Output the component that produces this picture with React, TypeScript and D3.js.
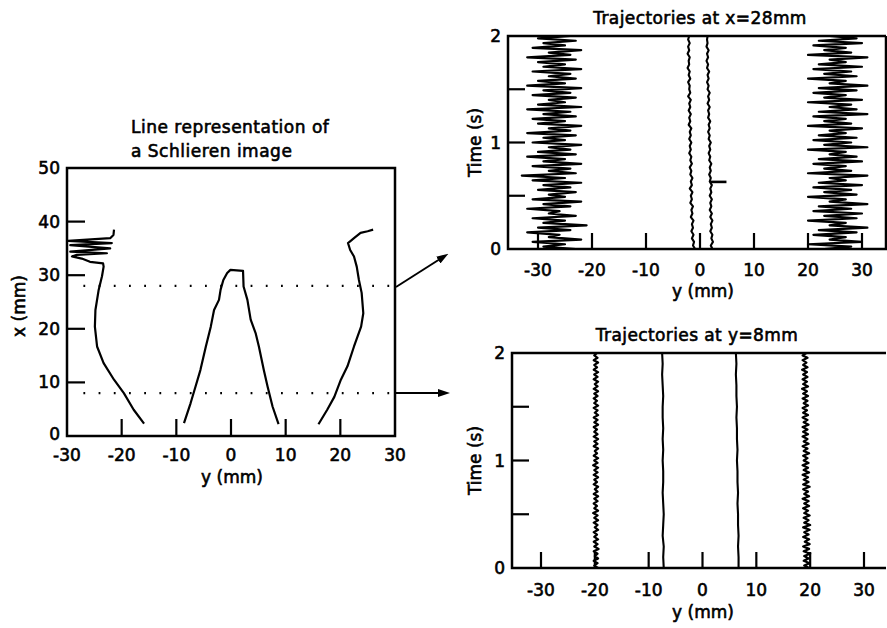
import React from "react";
import * as d3 from "d3";

// ---- left plot: line representation of a Schlieren image, points are [y(mm), x(mm)]
const schlierenLeft: [number, number][] = [
  [-15.9, 2.3], [-17.8, 4.9], [-19.6, 8], [-21.4, 10.5], [-23.3, 13.6], [-24.5, 16.7],
  [-24.9, 20.4], [-24.8, 23.5], [-24.2, 27.3], [-23.6, 29.8], [-23.3, 31.6], [-23.4, 32.2],
  [-25.8, 32.5], [-27.3, 33.1], [-29.1, 33.5], [-28.2, 33.8], [-22.7, 34.1], [-29.4, 34.4],
  [-22.1, 35], [-29.4, 35.6], [-21.8, 36], [-29.8, 36.4], [-22.1, 36.9], [-21.5, 37.5], [-21.4, 38.5],
];
const schlierenCentre: [number, number][] = [
  [-8.6, 2.4], [-7.4, 6.1], [-6.5, 9.2], [-5.6, 12.3], [-4.6, 16.7], [-3.7, 20.4], [-3.1, 23.5],
  [-2.2, 25.4], [-1.9, 27.3], [-1.4, 29.1], [-0.7, 30.4], [-0.1, 31], [2.2, 30.8], [2.3, 27.9],
  [3.0, 25.4], [3.6, 21.7], [4.5, 19.2], [5.1, 16.7], [6.0, 12.3], [6.7, 9.2], [7.6, 5.5], [8.7, 2.2],
];
const schlierenRight: [number, number][] = [
  [16.0, 2.2], [17.6, 4.9], [18.9, 7.3], [20.1, 10.5], [21.3, 13], [22.5, 16.7], [23.8, 20.4],
  [24.2, 22.9], [23.9, 26.7], [23.4, 29.1], [23.0, 31.6], [22.5, 33.5], [21.8, 34.7], [21.4, 36],
  [22.5, 36.9], [23.7, 37.9], [25.0, 38.2], [26.0, 38.5],
];
const cutLevels = [28, 8];
const leftXTicks = [-30, -20, -10, 0, 10, 20, 30];
const leftYTicks = [0, 10, 20, 30, 40, 50];

// ---- trajectories at x = 28 mm (values in mm, evenly spaced over 0..2 s)
const traj28Left = [
  -23, -29, -25, -31, -22, -28, -26, -32, -24, -30,
  -21, -29, -25, -31, -23, -28, -26, -32, -24, -29,
  -22, -31, -25, -28, -23, -30, -24, -29, -22, -31,
  -25, -33, -23, -28, -24, -31, -22, -29, -25, -32,
  -23, -30, -24, -28, -22, -31, -25, -29, -23, -32,
  -24, -28, -22, -30, -25, -31, -23, -29, -24, -32,
  -22, -30, -25, -28, -23, -31, -24, -29, -22, -32,
  -25, -30, -23, -28, -24, -31, -22, -29, -25, -30,
  -23, -32, -24, -28, -22, -31, -25, -29, -23, -30, -24,
];
const traj28Right = [
  23, 28, 20, 30, 24, 27, 21, 29, 22, 31,
  24, 27, 20, 29, 23, 30, 21, 28, 22, 31,
  24, 27, 20, 29, 23, 28, 21, 30, 22, 27,
  24, 31, 20, 28, 23, 27, 21, 30, 22, 29,
  24, 27, 20, 31, 23, 28, 21, 29, 22, 27,
  24, 30, 20, 28, 23, 27, 21, 31, 22, 29,
  24, 28, 20, 30, 23, 27, 21, 29, 22, 31,
  24, 27, 20, 29, 23, 28, 21, 30, 22, 27,
  24, 31, 20, 28, 23, 27, 21, 30, 22, 29, 24,
];
const traj28CentreA = [
  -0.9, -1.3, -1.1, -1.5, -1.2, -1.6, -1.3, -1.5, -1.2, -1.7,
  -1.4, -1.6, -1.3, -1.8, -1.5, -1.7, -1.4, -1.9, -1.5, -1.7,
  -1.4, -1.8, -1.6, -1.9, -1.5, -1.8, -1.6, -2.0, -1.7, -1.9,
  -1.6, -2.0, -1.7, -1.9, -1.6, -2.1, -1.8, -2.0, -1.7, -2.1,
  -1.8, -2.0, -1.7, -2.2, -1.8, -2.0, -1.9, -2.2, -1.8, -2.1,
  -1.9, -2.3, -2.0, -2.1, -1.9, -2.3, -2.0, -2.2, -1.9, -2.2, -2.0,
];
const traj28CentreB = [
  2.3, 2.0, 2.4, 2.1, 2.3, 1.9, 2.2, 2.0, 2.3, 1.9,
  2.2, 1.8, 2.1, 1.9, 2.2, 1.8, 2.1, 1.9, 2.2, 1.8,
  2.0, 1.7, 2.0, 1.8, 2.1, 1.7, 1.9, 1.6, 1.9, 1.7,
  2.0, 1.6, 1.8, 1.5, 1.8, 1.6, 1.9, 1.5, 1.7, 1.5,
  1.8, 1.4, 1.7, 1.5, 1.8, 1.4, 1.6, 1.3, 1.6, 1.4,
  1.7, 1.3, 1.5, 1.2, 1.5, 1.3, 1.6, 1.2, 1.4, 1.3, 1.4,
];
const traj28Spike: [number, number][] = [[1.9, 0.63], [4.9, 0.63]];

// ---- trajectories at y = 8 mm
const traj8A = [
  -19.4, -20.1, -19.5, -20.2, -19.4, -20.0, -19.5, -20.2, -19.3, -20.1,
  -19.5, -20.2, -19.4, -20.1, -19.6, -20.2, -19.4, -20.0, -19.5, -20.2,
  -19.4, -20.1, -19.5, -20.3, -19.4, -20.1, -19.6, -20.2, -19.5, -20.1,
  -19.4, -20.2, -19.5, -20.0, -19.4, -20.2, -19.6, -20.1, -19.4, -20.2,
  -19.5, -20.1, -19.4, -20.3, -19.5, -20.1, -19.4, -20.2, -19.6, -20.0,
  -19.4, -20.2, -19.5, -20.1, -19.4, -20.2, -19.5, -20.1, -19.6, -20.2,
  -19.4, -20.1, -19.5, -20.2, -19.4, -20.0, -19.5, -20.2, -19.4, -20.1,
  -19.6, -20.2, -19.5, -20.1, -19.4, -20.2, -19.5, -20.0, -19.4, -20.2,
  -19.5, -20.1, -19.4, -20.2, -19.6, -20.1, -19.4, -20.2, -19.5, -20.1, -19.6,
];
const traj8B = [
  -7.2, -7.3, -7.2, -7.4, -7.3, -7.2, -7.3, -7.4, -7.3, -7.3, -7.4, -7.3, -7.4, -7.3, -7.4, -7.4,
  -7.3, -7.4, -7.5, -7.4, -7.5,
];
const traj8C = [
  6.7, 6.7, 6.6, 6.7, 6.6, 6.6, 6.5, 6.6, 6.5, 6.5, 6.4, 6.5, 6.4, 6.4, 6.3, 6.4, 6.3, 6.3, 6.2,
  6.3, 6.2,
];
const traj8D = [
  19.8, 18.9, 19.9, 18.8, 19.7, 18.9, 20.0, 18.8, 19.8, 18.7,
  19.9, 19.0, 19.8, 18.7, 19.7, 18.9, 19.9, 18.7, 20.0, 18.9,
  19.7, 18.8, 19.9, 18.9, 19.6, 18.7, 19.8, 18.9, 19.7, 18.6,
  19.8, 18.9, 19.6, 18.7, 19.9, 18.7, 19.7, 18.8, 19.6, 18.6,
  19.8, 18.8, 19.6, 18.6, 19.7, 18.8, 19.5, 18.7, 19.8, 18.8,
  19.5, 18.6, 19.7, 18.8, 19.5, 18.6, 19.6, 18.7, 19.5, 18.6,
  19.7, 18.8, 19.5, 18.6, 19.6, 18.7, 19.4, 18.6, 19.6, 18.8,
  19.5, 18.6, 19.6, 18.7, 19.4, 18.5, 19.6, 18.7, 19.4, 18.6,
  19.5, 18.7, 19.4, 18.5, 19.5, 18.7, 19.3, 18.6, 19.5, 18.6, 19.3,
];
const trajXTicks = [-30, -20, -10, 0, 10, 20, 30];
const timeLabels = [0, 1, 2];
const timeMinorTicks = [0.5, 1, 1.5];

const FONT = "'DejaVu Sans', sans-serif";
const INK = "#000";

// turn an evenly sampled series into [y, t] pairs over 0..2 s
function toTimePairs(vals: number[]): [number, number][] {
  const step = d3.scaleLinear().domain([0, vals.length - 1]).range([0, 2]);
  return vals.map((v, i) => [v, step(i)]);
}

function Txt(props: any) {
  return (
    <text
      fontFamily={FONT}
      fontSize={17}
      fill={INK}
      stroke={INK}
      strokeWidth={0.6}
      {...props}
    />
  );
}

function LeftPlot() {
  const y = d3.scaleLinear().domain([-30, 30]).range([67, 395]);
  const x = d3.scaleLinear().domain([0, 50]).range([436, 168]);
  const line = d3.line<[number, number]>().x((d) => y(d[0])).y((d) => x(d[1]));
  return (
    <g>
      <Txt x={131} y={133} fontSize={17} letterSpacing={0.5}>Line representation of</Txt>
      <Txt x={131} y={157} fontSize={17} letterSpacing={0.5}>a Schlieren image</Txt>
      {[schlierenLeft, schlierenCentre, schlierenRight].map((d, i) => (
        <path key={i} d={line(d) || ""} fill="none" stroke={INK} strokeWidth={2.2} strokeLinejoin="round" />
      ))}
      {cutLevels.map((lv) => (
        <line key={lv} x1={y(-27)} x2={y(29.8)} y1={x(lv)} y2={x(lv)}
          stroke={INK} strokeWidth={2.4} strokeDasharray="1.8 13.4" />
      ))}
      <rect x={y(-30)} y={x(50)} width={y(30) - y(-30)} height={x(0) - x(50)}
        fill="none" stroke={INK} strokeWidth={2.5} />
      {leftXTicks.slice(1, -1).map((t) => (
        <line key={t} x1={y(t)} x2={y(t)} y1={x(0)} y2={x(0) - 17} stroke={INK} strokeWidth={2.2} />
      ))}
      {leftYTicks.slice(1, -1).map((t) => (
        <line key={t} x1={y(-30)} x2={y(-30) + 18} y1={x(t)} y2={x(t)} stroke={INK} strokeWidth={2.2} />
      ))}
      {leftXTicks.map((t) => (
        <Txt key={t} x={y(t)} y={461} textAnchor="middle">{t < 0 ? "-" + Math.abs(t) : t}</Txt>
      ))}
      {leftYTicks.map((t) => (
        <Txt key={t} x={60} y={x(t) + (t === 0 ? 4 : 6)} textAnchor="end">{t}</Txt>
      ))}
      <Txt x={232} y={483} textAnchor="middle">y (mm)</Txt>
      <Txt transform="translate(25,306) rotate(-90)" textAnchor="middle">x (mm)</Txt>
      {/* arrows pointing to the two trajectory panels */}
      <line x1={396} y1={287} x2={440} y2={259} stroke={INK} strokeWidth={2} markerEnd="url(#arrow)" />
      <line x1={396} y1={393} x2={440} y2={393} stroke={INK} strokeWidth={2} markerEnd="url(#arrow)" />
    </g>
  );
}

function TrajPanel(props: {
  title: string; top: number; bottom: number; left: number;
  xAt30: [number, number]; wiggly: number[][]; thin: number[][]; extra?: [number, number][];
  titleX: number; titleY: number; tickY: number; labelY: number; showRight: boolean;
}) {
  const { top, bottom, left, xAt30 } = props;
  const y = d3.scaleLinear().domain([-30, 30]).range(xAt30);
  const t = d3.scaleLinear().domain([0, 2]).range([bottom, top]);
  const line = d3.line<[number, number]>().x((d) => y(d[0])).y((d) => t(d[1]));
  const right = 886;
  return (
    <g>
      <Txt x={props.titleX} y={props.titleY} fontSize={17} textAnchor="middle" letterSpacing={0.4}>{props.title}</Txt>
      {props.wiggly.map((d, i) => (
        <path key={"w" + i} d={line(toTimePairs(d)) || ""} fill="none" stroke={INK} strokeWidth={2.2} strokeLinejoin="round" />
      ))}
      {props.thin.map((d, i) => (
        <path key={"t" + i} d={line(toTimePairs(d)) || ""} fill="none" stroke={INK} strokeWidth={2.1} strokeLinejoin="round" />
      ))}
      {props.extra && (
        <path d={line(props.extra) || ""} fill="none" stroke={INK} strokeWidth={2.6} />
      )}
      <path d={`M${right},${top}H${left}V${bottom}H${right}${props.showRight ? "V" + top : ""}`}
        fill="none" stroke={INK} strokeWidth={2.5} />
      {trajXTicks.map((v) => (
        <line key={v} x1={y(v)} x2={y(v)} y1={bottom} y2={bottom - 16} stroke={INK} strokeWidth={2.2} />
      ))}
      {timeMinorTicks.map((v) => (
        <line key={v} x1={left} x2={left + 17} y1={t(v)} y2={t(v)} stroke={INK} strokeWidth={2.2} />
      ))}
      {trajXTicks.map((v) => (
        <Txt key={v} x={y(v)} y={props.tickY} textAnchor="middle">{v < 0 ? "-" + Math.abs(v) : v}</Txt>
      ))}
      {timeLabels.map((v) => (
        <Txt key={v} x={left - 7} y={t(v) + 6} textAnchor="end">{v}</Txt>
      ))}
      <Txt x={703} y={props.labelY} textAnchor="middle">y (mm)</Txt>
      <Txt transform={`translate(481,${(top + bottom) / 2}) rotate(-90)`} textAnchor="middle">Time (s)</Txt>
    </g>
  );
}

export default function App() {
  return (
    <svg width={887} height={628} style={{ position: "absolute", left: 0, top: 0, background: "#fff" }}>
      <defs>
        <marker id="arrow" viewBox="0 0 12 8" refX={2} refY={4} markerWidth={12} markerHeight={8}
          markerUnits="userSpaceOnUse" orient="auto">
          <path d="M0,0L12,4L0,8Z" fill={INK} />
        </marker>
      </defs>
      <rect width={887} height={628} fill="#fff" />
      <LeftPlot />
      <TrajPanel title="Trajectories at x=28mm" top={36} bottom={249} left={508}
        xAt30={[538, 862]} wiggly={[traj28Left, traj28Right]} thin={[traj28CentreA, traj28CentreB]}
        extra={traj28Spike} titleX={700} titleY={24} tickY={276} labelY={297} showRight={true} />
      <TrajPanel title="Trajectories at y=8mm" top={353} bottom={568} left={512}
        xAt30={[541, 864]} wiggly={[traj8A, traj8D]} thin={[traj8B, traj8C]}
        titleX={697} titleY={341} tickY={596} labelY={618} showRight={false} />
    </svg>
  );
}
